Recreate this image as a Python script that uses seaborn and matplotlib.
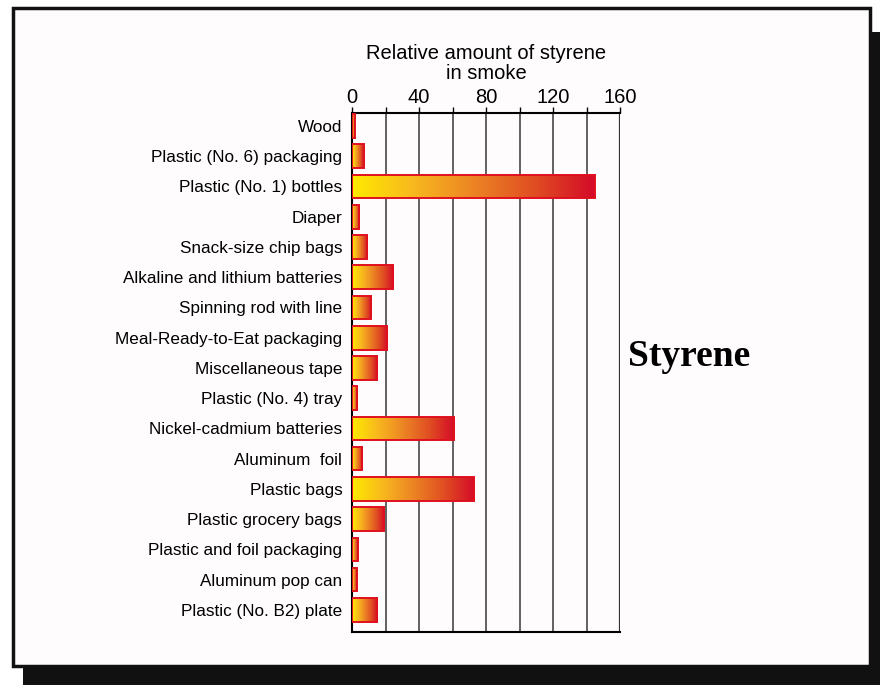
import matplotlib
matplotlib.use("Agg")
import matplotlib.pyplot as plt
import seaborn as sns
import numpy as np
from matplotlib.colors import LinearSegmentedColormap
from matplotlib.patches import Rectangle

categories = [
    "Wood",
    "Plastic (No. 6) packaging",
    "Plastic (No. 1) bottles",
    "Diaper",
    "Snack-size chip bags",
    "Alkaline and lithium batteries",
    "Spinning rod with line",
    "Meal-Ready-to-Eat packaging",
    "Miscellaneous tape",
    "Plastic (No. 4) tray",
    "Nickel-cadmium batteries",
    "Aluminum  foil",
    "Plastic bags",
    "Plastic grocery bags",
    "Plastic and foil packaging",
    "Aluminum pop can",
    "Plastic (No. B2) plate",
]
styrene = [1.5, 7, 145, 4.4, 9.2, 24.5, 11.4, 21, 15, 3.2, 61, 6.2, 73, 19.3, 3.4, 2.8, 15]

major_ticks = [0, 40, 80, 120, 160]
minor_ticks = [20, 60, 100, 140]

sns.set_style("white")
plt.rcParams['font.family'] = ['Liberation Sans', 'DejaVu Sans']
plt.rcParams['text.color'] = 'black'
plt.rcParams['xtick.color'] = 'black'
plt.rcParams['ytick.color'] = 'black'

fig = plt.figure(figsize=(8.8, 6.85), dpi=100)
W, H = 880, 685

# drop shadow + framed panel
fig.patches.append(Rectangle((23 / W, 0), 1 - 23 / W, 1 - 32 / H, transform=fig.transFigure,
                             facecolor="#111111", edgecolor="none", zorder=0))
fig.patches.append(Rectangle((12.5 / W, 1 - 665.5 / H), 857 / W, 658 / H, transform=fig.transFigure,
                             facecolor="#fefcfd", edgecolor="#111111", linewidth=2.5, zorder=1))

ax = fig.add_axes([352 / W, 1 - 632 / H, 268 / W, 519 / H])
ax.set_facecolor("#fefcfd")
ax.set_zorder(2)

sns.barplot(x=styrene, y=categories, orient="h", width=0.78, ax=ax,
            color="#f0a020", edgecolor="#e0101e", linewidth=1.4)

cmap = LinearSegmentedColormap.from_list(
    "sty", ["#ffea00", "#f8b81e", "#ec8424", "#e04e22", "#d40a28"])
grad = np.linspace(0, 1, 256).reshape(1, -1)
for p in ax.patches:
    x, y = p.get_x(), p.get_y()
    w, h = p.get_width(), p.get_height()
    p.set_facecolor("none")
    p.set_zorder(4)
    im = ax.imshow(grad, extent=[x, x + w, y + h, y], aspect="auto", cmap=cmap,
                   zorder=3, interpolation="bicubic")
    im.set_clip_path(p)

ax.set_xlim(0, 160)
ax.set_ylim(16.73, -0.43)

ax.xaxis.tick_top()
ax.set_xticks(major_ticks)
ax.set_xticks(minor_ticks, minor=True)
ax.tick_params(axis="x", which="both", direction="out", length=4, width=1,
               color="black", labelsize=14.5, pad=0.5, labelcolor="black")
for v in minor_ticks + [40, 80, 120]:
    ax.axvline(v, color="#555555", linewidth=1.3, zorder=1)
ax.axvline(160, color="#333333", linewidth=1.6, zorder=1)

ax.tick_params(axis="y", length=0, pad=7, labelcolor="black")
for lab in ax.get_yticklabels():
    lab.set_fontsize(12.3)

for side in ["top", "left", "bottom"]:
    ax.spines[side].set_color("black")
    ax.spines[side].set_linewidth(1.5)
ax.spines["right"].set_visible(False)
ax.set_xlabel("")
ax.set_ylabel("")

fig.text(486 / W, 1 - 63.5 / H, "Relative amount of styrene\nin smoke", ha="center", va="center",
         fontsize=14.5, linespacing=1.05, zorder=5)
fig.text(628 / W, 1 - 357 / H, "Styrene", ha="left", va="center", fontsize=27,
         fontweight="bold", family=["Liberation Serif", "DejaVu Serif"], zorder=5)

fig.savefig("out.png", dpi=100)
